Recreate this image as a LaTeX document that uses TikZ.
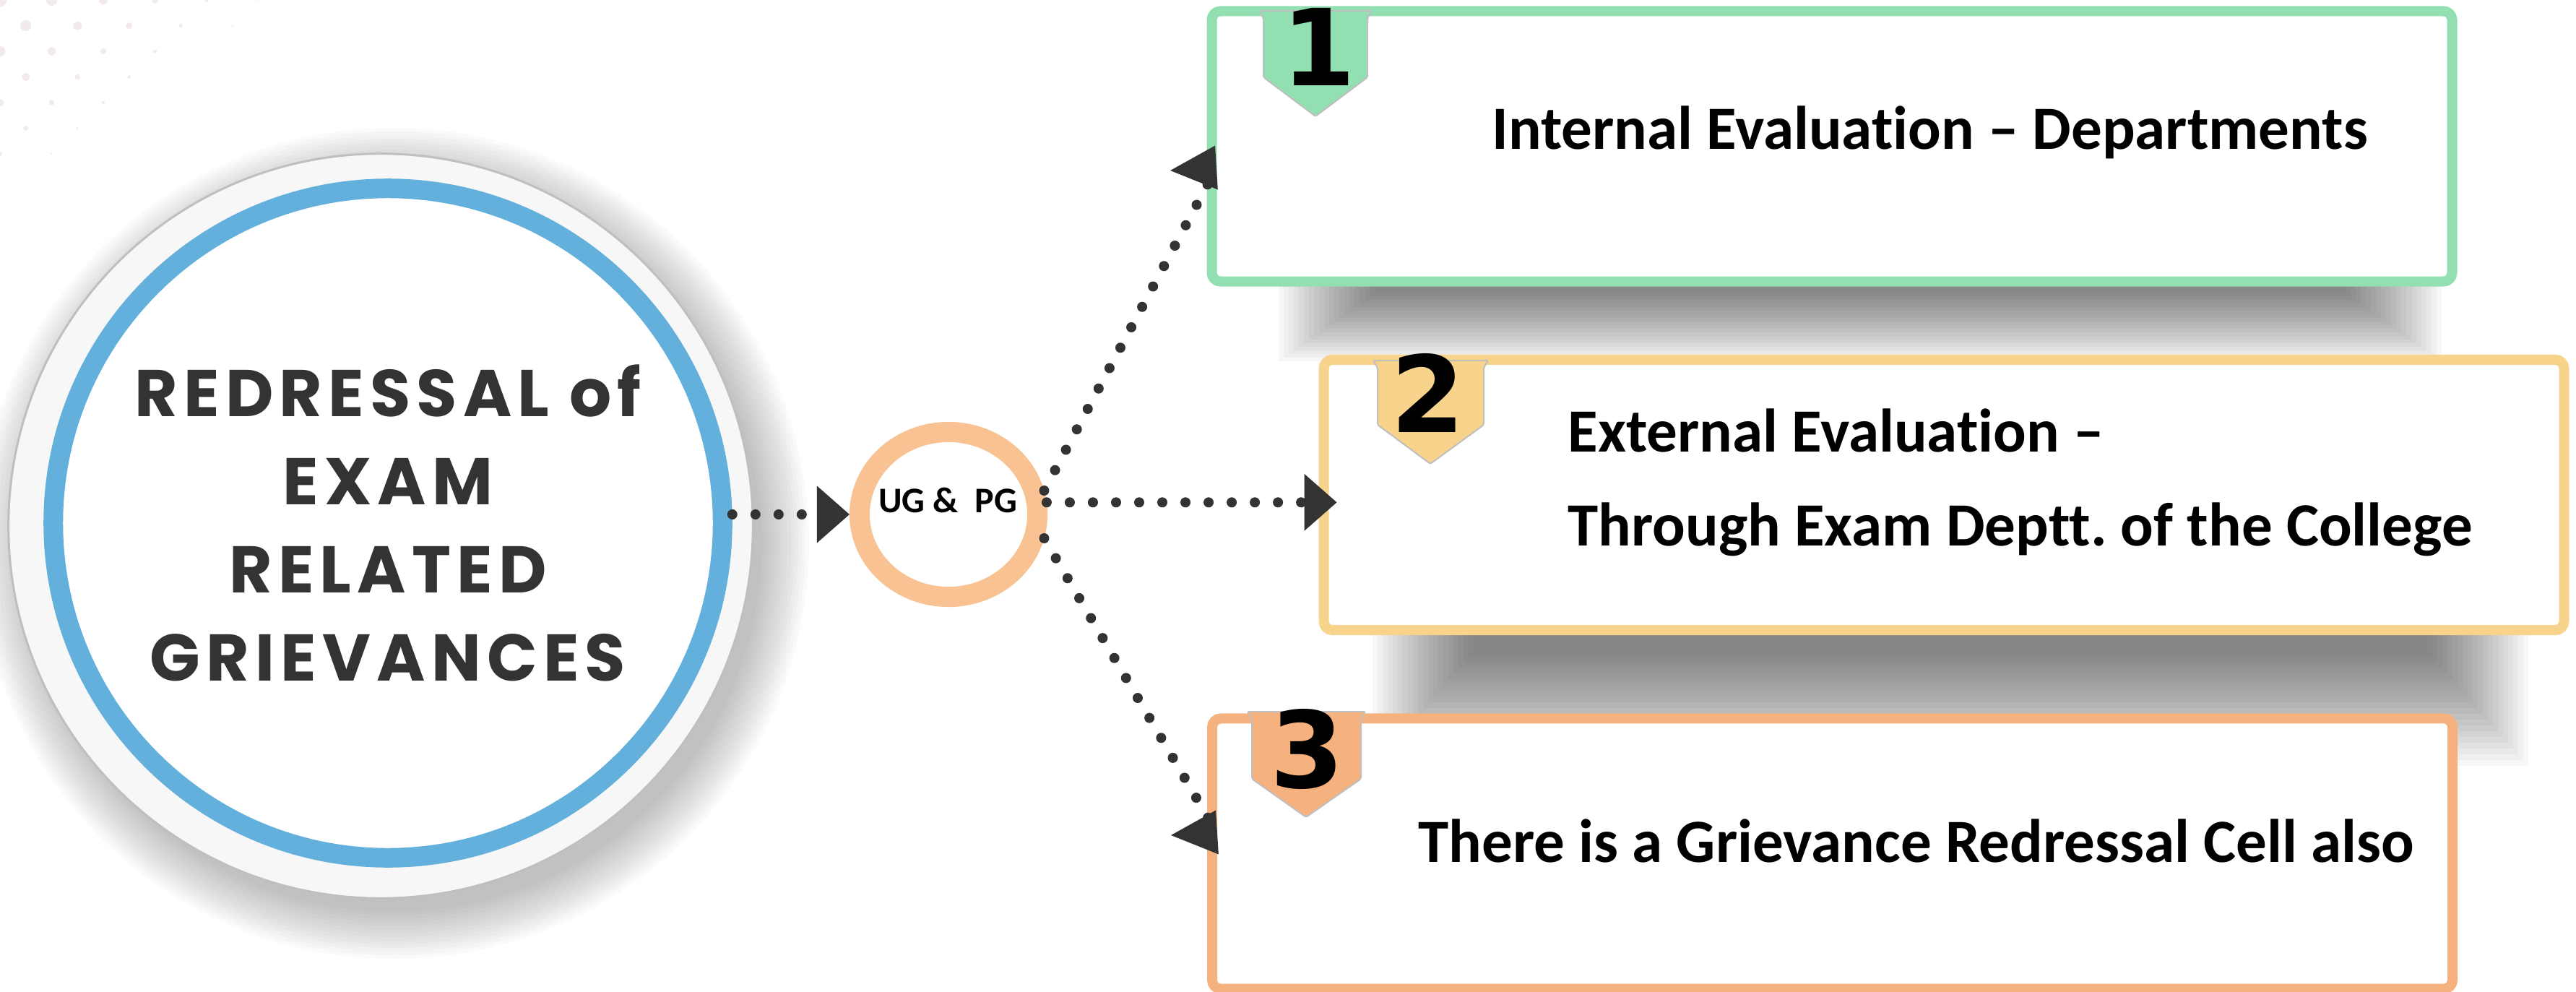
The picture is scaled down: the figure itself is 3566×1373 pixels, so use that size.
\documentclass[tikz,border=0pt]{standalone}
\usepackage{fontspec}
\setmainfont{Carlito}[Ligatures=NoCommon]
\newfontfamily\headfont{Poppins}[LetterSpace=9]
\newfontfamily\numfont{DejaVu Sans}
\usepackage{tikz}
\usetikzlibrary{positioning,arrows.meta,shapes.geometric}

\definecolor{ringblue}{HTML}{63B0DC}
\definecolor{ugorange}{HTML}{F9C292}
\definecolor{boxgreen}{HTML}{92DFB2}
\definecolor{boxyellow}{HTML}{F8D38B}
\definecolor{boxorange}{HTML}{F6B27E}
\definecolor{ink}{HTML}{333333}
\definecolor{dotpink}{HTML}{F3EBEB}

\frenchspacing

\begin{document}
\begin{tikzpicture}[x=0.01cm, y=0.01cm,
		itembox/.style={rectangle, draw, line width=0.14cm, fill=white, rounded corners=0.12cm, minimum width=17.16cm, minimum height=3.74cm, inner sep=0pt},
		dotline/.style={draw=ink, line width=0.14cm, line cap=round, dash pattern=on 0pt off 0.32cm},
		headarrow/.style={-{Triangle[length=0.45cm, width=0.79cm, line width=0pt]}},
		backarrow/.style={-{Triangle[length=0.64cm, width=0.61cm, line width=0pt]}},
		boxtext/.style={anchor=base west, inner sep=0pt, font=\bfseries\fontsize{24.2}{29}\selectfont},
		badgenum/.style={anchor=base, inner sep=0pt, font=\numfont\bfseries\fontsize{41.8}{50}\selectfont},
		badge/.style={draw=black!25, line width=0.02cm, rounded corners=0.02cm}
		]
		\useasboundingbox (0,0) rectangle (3566,-1373);
		
		% faint dots, top left
		\foreach \r in {0,...,6}{
			\foreach \c in {0,...,6}{
				\pgfmathsetmacro{\px}{71.5*\c+35.75*mod(\r,2)}
				\pgfmathsetmacro{\py}{35.5*\r}
				\pgfmathsetmacro{\pd}{19-0.045*\px-0.06*\py}
				\ifdim\pd pt>2pt \fill[dotpink] (\px,-\py) circle[radius=\pd/2]; \fi
			}
		}
		
		% shadows
		\foreach \k in {1,...,14}
			\fill[black, opacity=0.02] (545,-752) circle[radius=505+5*\k];
		\foreach \k in {0,...,19}
			\fill[black, opacity=0.032] (1770+7*\k,-392) rectangle (3380-7*\k,-500+5*\k);
		\foreach \k in {0,...,19}
			\fill[black, opacity=0.03] (1900+7*\k,-870) rectangle (3500-7*\k,-1060+8*\k);
		
		% big circle
		\node[circle, fill=black!3, draw=black!25, line width=0.03cm, minimum size=10.3cm] (disc) at (527,-728) {};
		\node[circle, draw=ringblue, line width=0.27cm, fill=white, minimum size=9.26cm, inner sep=0pt,
			align=center, text=ink, font=\headfont\bfseries\fontsize{26}{34.7}\selectfont] (ring) at (537,-724)
			{REDRESSAL of\\EXAM\\RELATED\\GRIEVANCES};
		
		% UG & PG
		\node[ellipse, draw=ugorange, line width=0.28cm, fill=white, minimum width=2.46cm, minimum height=2.28cm, inner sep=0pt] (ug) at (1313,-712) {};
		\node[anchor=base, inner sep=0pt, font=\bfseries\fontsize{14.2}{17}\selectfont] (ugtxt) at (1312,-709) {UG~\&~~PG};
		
		% boxes
		\node[itembox, draw=boxgreen] (box1) at (2536,-202.5) {};
		\node[itembox, draw=boxyellow] (box2) at (2691,-685) {};
		\node[itembox, draw=boxorange] (box3) at (2536.5,-1181.5) {};
		
		% badges
		\filldraw[badge, fill=boxgreen] (1743,-15) -- (1749,-25) -- (1749,-107) -- (1821,-161) -- (1893,-107) -- (1893,-25) -- (1899,-15) -- cycle;
		\filldraw[badge, fill=boxyellow] (1901,-499) -- (1907,-509) -- (1907,-588) -- (1980,-642) -- (2054,-588) -- (2054,-509) -- (2060,-499) -- cycle;
		\filldraw[badge, fill=boxorange] (1727,-985) -- (1733,-995) -- (1733,-1078) -- (1808,-1131) -- (1884,-1078) -- (1884,-995) -- (1890,-985) -- cycle;
		\node[badgenum] (n1) at (1826,-119) {1};
		\node[badgenum] (n2) at (1977,-598) {2};
		\node[badgenum] (n3) at (1810,-1090) {3};
		
		% texts
		\node[boxtext] (t1) at (2065,-206) {Internal Evaluation -- Departments};
		\node[boxtext] (t2a) at (2170,-625) {External Evaluation --};
		\node[boxtext] (t2b) at (2170,-755) {Through Exam Deptt. of the College};
		\node[boxtext] (t3) at (1963,-1193) {There is a Grievance Redressal Cell also};
		
		% connectors
		\coordinate (e1) at (1684,-232);
		\coordinate (p1) at (1620,-236);
		\coordinate (e3) at (1684,-1152);
		\coordinate (p3) at (1621,-1156);
		\draw[dotline, headarrow] (ug.west -| ring.east) -- (ug.west);
		\draw[dotline, headarrow, shorten >=-0.25cm] (ug.7) -- (ug.7 -| box2.west);
		\draw[dotline, backarrow] (ug.14) -- (e1) -- (p1);
		\draw[dotline, backarrow] (ug.-14) -- (e3) -- (p3);
	\end{tikzpicture}
\end{document}
